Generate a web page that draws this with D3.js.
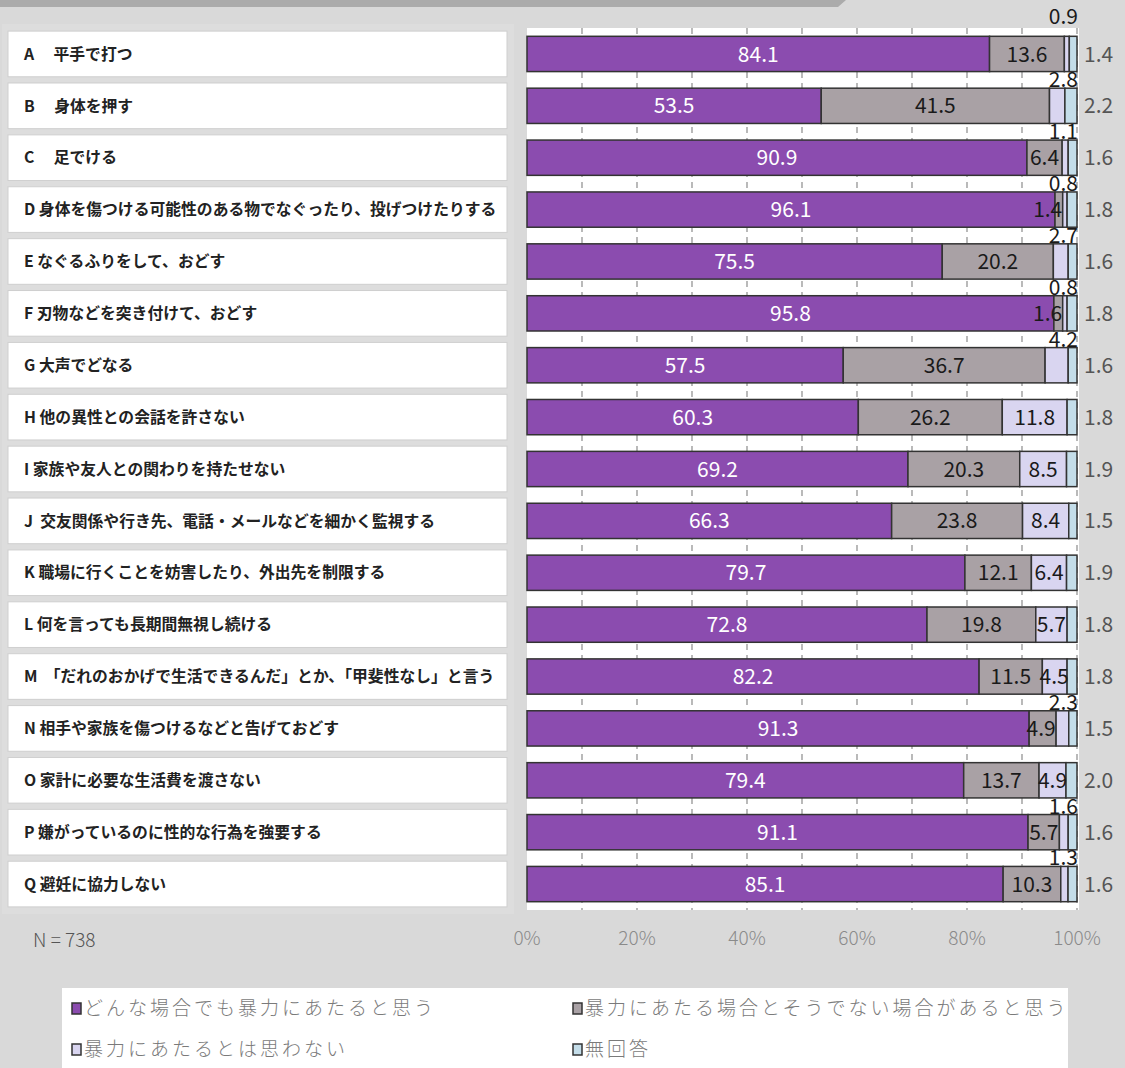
<!DOCTYPE html>
<html>
<head>
<meta charset="utf-8">
<script src="https://cdn.jsdelivr.net/npm/d3@7"></script>
<style>
  body { margin: 0; background: #d9d9d9; }
  svg { display: block; }
  text { font-family: "Noto Sans CJK JP", "Noto Sans", sans-serif; }
</style>
</head>
<body>
<div id="chart"></div>
<script>
// 暴力の認識 (N = 738)
const categories = [
  "A 　平手で打つ",
  "B 　身体を押す",
  "C 　足でける",
  "D 身体を傷つける可能性のある物でなぐったり、投げつけたりする",
  "E なぐるふりをして、おどす",
  "F 刃物などを突き付けて、おどす",
  "G 大声でどなる",
  "H 他の異性との会話を許さない",
  "I 家族や友人との関わりを持たせない",
  "J  交友関係や行き先、電話・メールなどを細かく監視する",
  "K 職場に行くことを妨害したり、外出先を制限する",
  "L 何を言っても長期間無視し続ける",
  "M  「だれのおかげで生活できるんだ」とか、「甲斐性なし」と言う",
  "N 相手や家族を傷つけるなどと告げておどす",
  "O 家計に必要な生活費を渡さない",
  "P 嫌がっているのに性的な行為を強要する",
  "Q 避妊に協力しない"
];

const always = [84.1, 53.5, 90.9, 96.1, 75.5, 95.8, 57.5, 60.3, 69.2, 66.3, 79.7, 72.8, 82.2, 91.3, 79.4, 91.1, 85.1];
const depends = [13.6, 41.5, 6.4, 1.4, 20.2, 1.6, 36.7, 26.2, 20.3, 23.8, 12.1, 19.8, 11.5, 4.9, 13.7, 5.7, 10.3];
const never = [0.9, 2.8, 1.1, 0.8, 2.7, 0.8, 4.2, 11.8, 8.5, 8.4, 6.4, 5.7, 4.5, 2.3, 4.9, 1.6, 1.3];
const noAnswer = [1.4, 2.2, 1.6, 1.8, 1.6, 1.8, 1.6, 1.8, 1.9, 1.5, 1.9, 1.8, 1.8, 1.5, 2.0, 1.6, 1.6];

const seriesNames = [
  "どんな場合でも暴力にあたると思う",
  "暴力にあたる場合とそうでない場合があると思う",
  "暴力にあたるとは思わない",
  "無回答"
];
const colors = ["#8b4caf", "#a9a1a5", "#d9d5f0", "#c4dde9"];
const tickLabels = ["0%", "20%", "40%", "60%", "80%", "100%"];

const width = 1125;
const height = 1068;

const svg = d3.select("#chart")
  .append("svg")
  .attr("width", width)
  .attr("height", height);

svg.append("rect")
  .attr("width", width)
  .attr("height", height)
  .attr("fill", "#d9d9d9");

// top banner
svg.append("path")
  .attr("d", "M0,0 L846,0 L838,7 L0,7 Z")
  .attr("fill", "#ababab");

const plotTop = 28, plotBottom = 910;

// share of 100% stacked bar
const xScale = d3.scaleLinear()
  .domain([0, 1])
  .range([527, 1077]);

const yScale = d3.scaleBand()
  .domain(categories)
  .range([plotTop, plotBottom])
  .paddingInner(0.32)
  .paddingOuter(0.16);

const labelScale = d3.scaleBand()
  .domain(categories)
  .range([plotTop, plotBottom])
  .paddingInner(0.12)
  .paddingOuter(0.06);

// label boxes
svg.append("rect")
  .attr("x", 2).attr("y", 24)
  .attr("width", 512).attr("height", 890)
  .attr("fill", "#dddddd");

const labelRows = svg.selectAll("g.label")
  .data(categories)
  .enter()
  .append("g")
  .attr("class", "label");

labelRows.append("rect")
  .attr("x", 8)
  .attr("y", d => labelScale(d))
  .attr("width", 499)
  .attr("height", labelScale.bandwidth())
  .attr("fill", "#fff")
  .attr("stroke", "#cfcfcf");

labelRows.append("text")
  .attr("x", 24)
  .attr("y", d => labelScale(d) + labelScale.bandwidth() / 2)
  .attr("dy", "0.36em")
  .attr("font-size", 15.8)
  .attr("font-weight", "bold")
  .attr("fill", "#222")
  .style("white-space", "pre")
  .text(d => d);

// plot background
svg.append("rect")
  .attr("x", 527).attr("y", plotTop)
  .attr("width", 552).attr("height", plotBottom - plotTop)
  .attr("fill", "#fff");

svg.append("g")
  .selectAll("line")
  .data(d3.range(1, 11).map(d => d / 10))
  .enter()
  .append("line")
  .attr("x1", d => xScale(d))
  .attr("x2", d => xScale(d))
  .attr("y1", plotTop)
  .attr("y2", plotBottom)
  .attr("stroke", "#8c8c8c")
  .attr("stroke-width", 1.2)
  .attr("stroke-dasharray", "6,5");

// stacked data
const rows = categories.map((c, i) => ({ cat: c, values: [always[i], depends[i], never[i], noAnswer[i]] }));
const stack = d3.stack()
  .keys([0, 1, 2, 3])
  .value((d, k) => d.values[k])
  .offset(d3.stackOffsetExpand);
const series = stack(rows);

const layers = svg.selectAll("g.layer")
  .data(series)
  .enter()
  .append("g")
  .attr("class", "layer")
  .attr("fill", (d, i) => colors[i]);

layers.selectAll("rect")
  .data(d => d)
  .enter()
  .append("rect")
  .attr("x", d => xScale(d[0]))
  .attr("y", d => yScale(d.data.cat))
  .attr("width", d => xScale(d[1]) - xScale(d[0]))
  .attr("height", yScale.bandwidth())
  .attr("stroke", "#333")
  .attr("stroke-width", 1.5);

const valueFont = 21;

// purple values
svg.append("g")
  .selectAll("text")
  .data(series[0])
  .enter()
  .append("text")
  .attr("x", d => xScale((d[0] + d[1]) / 2))
  .attr("y", d => yScale(d.data.cat) + yScale.bandwidth() / 2)
  .attr("dy", "0.36em")
  .attr("text-anchor", "middle")
  .attr("font-size", valueFont)
  .attr("fill", "#fff")
  .text(d => d.data.values[0].toFixed(1));

// gray values
svg.append("g")
  .selectAll("text")
  .data(series[1])
  .enter()
  .append("text")
  .attr("x", d => Math.min(xScale((d[0] + d[1]) / 2), xScale(d[1]) - 15))
  .attr("y", d => yScale(d.data.cat) + yScale.bandwidth() / 2)
  .attr("dy", "0.36em")
  .attr("text-anchor", "middle")
  .attr("font-size", valueFont)
  .attr("fill", "#1a1a1a")
  .text(d => d.data.values[1].toFixed(1));

// lavender values: inside if wide enough, else above bar
svg.append("g")
  .selectAll("text")
  .data(series[2])
  .enter()
  .append("text")
  .each(function(d, i) {
    const v = d.data.values[2];
    const t = d3.select(this);
    if (v >= 4.4) {
      t.attr("x", Math.min(xScale((d[0] + d[1]) / 2), xScale(d[1]) - 13))
        .attr("y", yScale(d.data.cat) + yScale.bandwidth() / 2)
        .attr("dy", "0.36em")
        .attr("text-anchor", "middle");
    } else {
      t.attr("x", xScale(1) + 1)
        .attr("y", yScale(d.data.cat) - (i === 0 ? 12 : 1))
        .attr("text-anchor", "end");
    }
  })
  .attr("font-size", valueFont)
  .attr("fill", "#1a1a1a")
  .text(d => d.data.values[2].toFixed(1));

// no answer values, outside right
svg.append("g")
  .selectAll("text")
  .data(series[3])
  .enter()
  .append("text")
  .attr("x", xScale(1) + 7)
  .attr("y", d => yScale(d.data.cat) + yScale.bandwidth() / 2)
  .attr("dy", "0.36em")
  .attr("font-size", valueFont)
  .attr("fill", "#555")
  .text(d => d.data.values[3].toFixed(1));

// x axis labels
svg.append("g")
  .selectAll("text")
  .data(tickLabels)
  .enter()
  .append("text")
  .attr("x", (d, i) => xScale(i * 0.2))
  .attr("y", 945)
  .attr("text-anchor", "middle")
  .attr("font-size", 19)
  .attr("font-weight", 300)
  .attr("fill", "#8a8a8a")
  .text(d => d);

svg.append("text")
  .attr("x", 33)
  .attr("y", 947)
  .attr("font-size", 19)
  .attr("font-weight", 300)
  .attr("fill", "#555")
  .text("N = 738");

// legend
svg.append("rect")
  .attr("x", 62).attr("y", 988)
  .attr("width", 1006).attr("height", 80)
  .attr("fill", "#fff");

const legendPos = [[72, 1008], [573, 1008], [72, 1049], [573, 1049]];

const legend = svg.selectAll("g.legend")
  .data(seriesNames)
  .enter()
  .append("g")
  .attr("class", "legend")
  .attr("transform", (d, i) => `translate(${legendPos[i][0]}, ${legendPos[i][1]})`);

legend.append("rect")
  .attr("x", 0)
  .attr("y", -5)
  .attr("width", 9)
  .attr("height", 11)
  .attr("fill", (d, i) => colors[i])
  .attr("stroke", "#333")
  .attr("stroke-width", 1.5);

legend.append("text")
  .attr("x", 12)
  .attr("y", 0)
  .attr("dy", "0.36em")
  .attr("font-size", 19)
  .attr("font-weight", 300)
  .attr("letter-spacing", 3)
  .attr("fill", "#7a7a7a")
  .text(d => d);
</script>
</body>
</html>
